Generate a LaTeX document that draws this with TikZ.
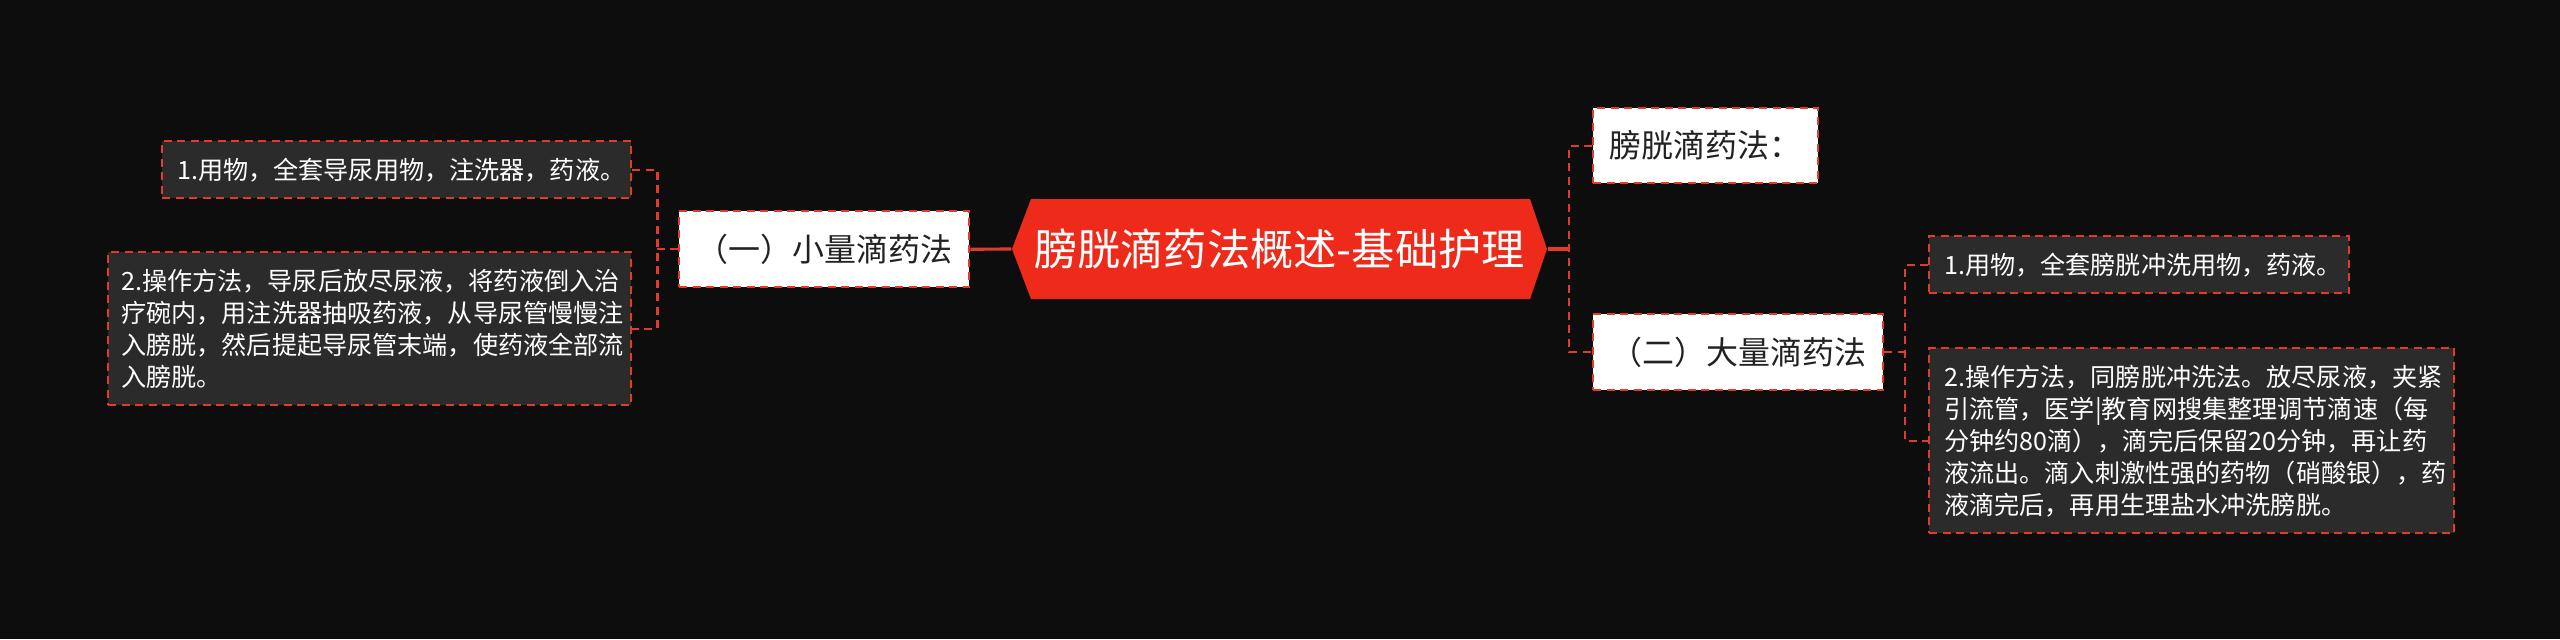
\documentclass[tikz,border=0pt]{standalone}
\usepackage{fontspec}
\setmainfont{Noto Sans CJK SC}
\definecolor{bg}{HTML}{0D0D0D}
\definecolor{boxdark}{HTML}{2B2B2B}
\definecolor{redline}{HTML}{E23B2C}
\definecolor{redfill}{HTML}{EE2B1B}
\definecolor{darktext}{HTML}{222222}
\begin{document}
\begin{tikzpicture}[x=0.1mm,y=-0.1mm,
  conn/.style={draw=redline, line width=0.7pt, dash pattern=on 0.8mm off 0.55mm},
  solidconn/.style={draw=redline, line width=0.9pt},
  leafbox/.style={draw=redline, fill=boxdark, dash pattern=on 0.8mm off 0.55mm, line width=0.7pt,
    text=white, font=\fontsize{7.15pt}{9.1pt}\selectfont, align=left, inner ysep=0pt, anchor=north west},
  topicbox/.style={draw=redline, fill=white, dash pattern=on 0.8mm off 0.55mm, line width=0.7pt,
    text=darktext, font=\fontsize{9.1pt}{10pt}\selectfont, inner sep=0pt, anchor=north west},
  centerbox/.style={inner sep=0pt, text=white, font=\fontsize{12.3pt}{14pt}\selectfont,
    minimum width=53.5mm, minimum height=10mm}
]
\fill[bg] (0,0) rectangle (2560,639);
\useasboundingbox (0,0) rectangle (2560,639);

% central hexagon
\fill[redfill] (1012,249) -- (1031,199) -- (1530,199) -- (1547,249) -- (1530,299) -- (1031,299) -- cycle;
\node[centerbox] (c) at (1279.5,249) {膀胱滴药法概述-基础护理};

% level-1 topics
\node[topicbox, minimum width=29mm, minimum height=7.6mm] (t1) at (678,210) {（一）小量滴药法};
\node[topicbox, minimum width=22.5mm, minimum height=7.5mm] (r1) at (1592,107) {膀胱滴药法：};
\node[topicbox, minimum width=29mm, minimum height=7.6mm] (r2) at (1592,313) {（二）大量滴药法};

% left leaves
\node[leafbox, inner xsep=1.5mm, text width=43.9mm, minimum height=5.7mm] (l1) at (161,140)
  {1.用物，全套导尿用物，注洗器，药液。};
\node[leafbox, inner xsep=1.3mm, text width=49.7mm, minimum height=15.3mm] (l2) at (107,251)
  {2.操作方法，导尿后放尽尿液，将药液倒入治\\疗碗内，用注洗器抽吸药液，从导尿管慢慢注\\入膀胱，然后提起导尿管末端，使药液全部流\\入膀胱。};

% right leaves
\node[leafbox, inner xsep=1.5mm, text width=39mm, minimum height=5.7mm] (s1) at (1928,235)
  {1.用物，全套膀胱冲洗用物，药液。};
\node[leafbox, inner xsep=1.5mm, text width=49.5mm, minimum height=18.5mm] (s2) at (1928,347)
  {2.操作方法，同膀胱冲洗法。放尽尿液，夹紧\\引流管，医学|教育网搜集整理调节滴速（每\\分钟约80滴），滴完后保留20分钟，再让药\\液流出。滴入刺激性强的药物（硝酸银），药\\液滴完后，再用生理盐水冲洗膀胱。};

% connectors
\coordinate (rj) at (1569,249);
\draw[solidconn] (c.west) -- (t1.east);
\draw[solidconn] (c.east) -- (rj);
\draw[conn] (r1.west) -- ++(-23,0) |- (r2.west);
\draw[conn] (t1.west) -- ++(-23,0);
\draw[conn] (l1.east) -- ++(25,0) |- (l2.east);
\draw[conn] (r2.east) -- ++(23,0);
\draw[conn] (s1.west) -- ++(-23,0) |- (s2.west);
\end{tikzpicture}
\end{document}
